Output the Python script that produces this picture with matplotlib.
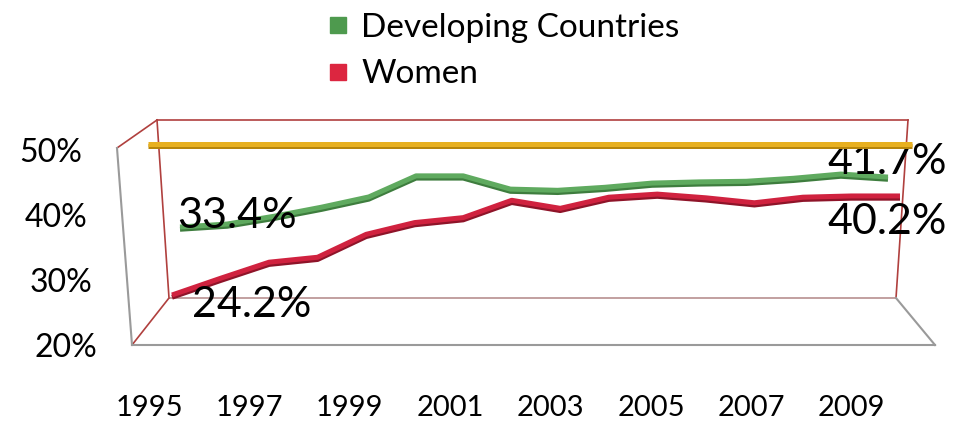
import matplotlib
matplotlib.use("Agg")
import matplotlib.pyplot as plt
import matplotlib.patheffects as pe
from matplotlib.lines import Line2D

# Data (share of total, %)
years = list(range(1995, 2011))
developing = [33.4, 33.9, 35.2, 36.7, 38.4, 41.9, 41.9, 39.7, 39.5, 40.0,
              40.7, 40.9, 41.0, 41.5, 42.2, 41.7]
women = [24.2, 26.9, 29.5, 30.3, 34.0, 35.9, 36.7, 39.5, 38.2, 40.0,
         40.5, 39.9, 39.1, 40.0, 40.2, 40.2]
parity = [50, 50, 50, 50, 50, 50, 50, 50, 50, 50, 50, 50, 50, 50, 50, 50]
year_labels = [1995, 1997, 1999, 2001, 2003, 2005, 2007, 2009]
y_ticks = [20, 30, 40, 50]

W, H = 955, 425
plt.rcParams['font.family'] = ['Lato', 'DejaVu Sans']

fig = plt.figure(figsize=(W / 100, H / 100), dpi=100)


def plane_axes(x0, x1, y20, y50):
    # one depth plane of the pseudo-3D box, given in pixels
    ax = fig.add_axes([x0 / W, 1 - y20 / H, (x1 - x0) / W, (y20 - y50) / H])
    ax.set_xlim(1995, 2010)
    ax.set_ylim(20, 50)
    ax.axis('off')
    ax.patch.set_alpha(0)
    return ax


# frame of the 3D box, drawn in pixel space
frame = fig.add_axes([0, 0, 1, 1], zorder=0)
frame.set_xlim(0, W)
frame.set_ylim(H, 0)
frame.axis('off')
wall = '#B0403E'
floor = '#9A9A9A'
frame.plot([157, 908], [120, 120], color=wall, lw=1.2)
frame.plot([157, 169], [120, 298], color=wall, lw=1.2)
frame.plot([908, 896], [120, 298], color=wall, lw=1.2)
frame.plot([169, 896], [298, 298], color='#B89090', lw=1.2)
frame.plot([157, 117], [120, 148], color=wall, lw=1.2)
frame.plot([169, 132], [298, 345], color=wall, lw=1.2)
frame.plot([117, 132], [148, 345], color=floor, lw=1.5)
frame.plot([132, 935], [345, 345], color=floor, lw=1.5)
frame.plot([896, 935], [298, 345], color=floor, lw=1.5)


def ribbon(ax, values, color, dark):
    ax.plot(years, values, color=color, lw=3.6, clip_on=False,
            solid_capstyle='butt', solid_joinstyle='round',
            path_effects=[pe.SimpleLineShadow(offset=(0, -1.6), shadow_color=dark, alpha=1),
                          pe.Normal()])


ax_g = plane_axes(180, 888, 307.7, 127.1)
ribbon(ax_g, developing, '#5FAA5F', '#3E7D3E')
ax_r = plane_axes(172, 900, 321.0, 135.3)
ribbon(ax_r, women, '#D0223F', '#8E1429')
ax_p = plane_axes(148, 912, 337.5, 144.0)
ribbon(ax_p, parity, '#E8B020', '#B8860B')

lab = dict(fontsize=31, color='black', textcoords='offset pixels', zorder=5)
ax_g.annotate(f'{developing[0]}%', xy=(years[0], developing[0]), xytext=(-3, 11),
              ha='left', va='center', **lab)
ax_r.annotate(f'{women[0]}%', xy=(years[0], women[0]), xytext=(20, -10),
              ha='left', va='center', **lab)
ax_g.annotate(f'{developing[-1]}%', xy=(years[-1], developing[-1]), xytext=(59, 15),
              ha='right', va='center', **lab)
ax_r.annotate(f'{women[-1]}%', xy=(years[-1], women[-1]), xytext=(47, -26),
              ha='right', va='center', **lab)

# front plane carries the axis labels
ax_f = plane_axes(124, 927, 348, 153)
ax_f.set_xlim(1994.5, 2010.5)
for v in y_ticks:
    ax_f.annotate(f'{v}%', xy=(0, v), xycoords=('axes fraction', 'data'),
                  xytext=(-27 - (v - 20) * 0.5, 0), textcoords='offset pixels',
                  ha='right', va='center', fontsize=23)
for yr in year_labels:
    ax_f.annotate(str(yr), xy=(yr, 20), xycoords='data', xytext=(0, -60),
                  textcoords='offset pixels', ha='center', va='center',
                  fontsize=21)

handles = [Line2D([], [], ls='none', marker='s', ms=12, color='#4E9A4E'),
           Line2D([], [], ls='none', marker='s', ms=12, color='#DC2640')]
fig.legend(handles, ['Developing Countries', 'Women'], loc='upper left',
           bbox_to_anchor=(303 / W, 1.025), frameon=False, fontsize=24,
           handlelength=0.7, handletextpad=0.35, labelspacing=0.5, borderpad=0.2)

fig.savefig('out.png', dpi=100)
